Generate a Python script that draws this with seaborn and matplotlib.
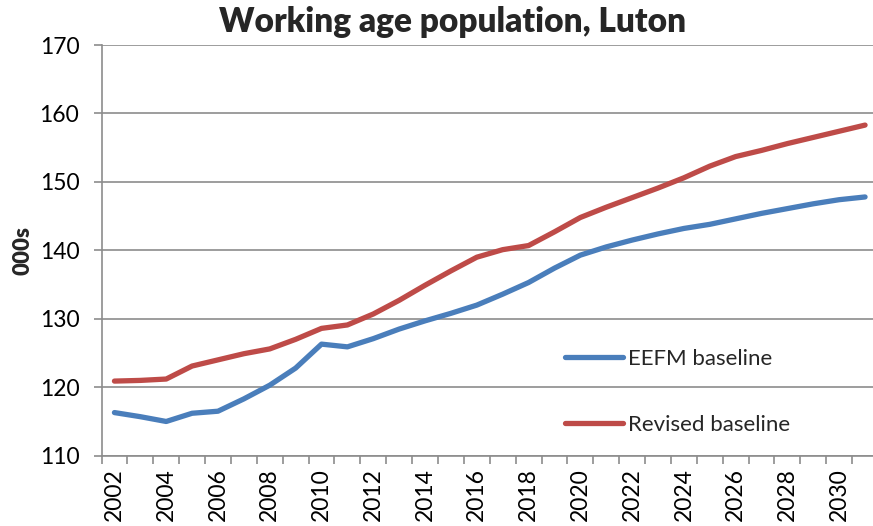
import numpy as np
import pandas as pd
import matplotlib
matplotlib.use("Agg")
import matplotlib.pyplot as plt
import seaborn as sns
from matplotlib.ticker import FixedLocator

years = list(range(2002, 2032))
eefm = [116.3, 115.7, 115.0, 116.2, 116.5, 118.3, 120.3, 122.8, 126.3, 125.9,
        127.1, 128.5, 129.7, 130.8, 132.0, 133.6, 135.3, 137.4, 139.3, 140.5,
        141.5, 142.4, 143.2, 143.8, 144.6, 145.4, 146.1, 146.8, 147.4, 147.8]
revised = [120.9, 121.0, 121.2, 123.1, 124.0, 124.9, 125.6, 127.0, 128.6, 129.1,
           130.7, 132.7, 134.9, 137.0, 139.0, 140.1, 140.7, 142.7, 144.8, 146.3,
           147.7, 149.1, 150.6, 152.3, 153.7, 154.6, 155.6, 156.5, 157.4, 158.3]
series_names = ["EEFM baseline", "Revised baseline"]
colors = ["#4A7EBB", "#BE4B48"]
y_ticks = [110, 120, 130, 140, 150, 160, 170]
x_labels = list(range(2002, 2031, 2))

df = pd.DataFrame({
    "year": years * 2,
    "value": eefm + revised,
    "series": [series_names[0]] * len(years) + [series_names[1]] * len(years),
})

sns.set_theme(style="white")
plt.rcParams["font.family"] = ["Lato", "DejaVu Sans"]

fig = plt.figure(figsize=(8.73, 5.26), dpi=100)
ax = fig.add_axes([101.5 / 873, 1 - 455.7 / 526, (878 - 101.5) / 873, (455.7 - 45) / 526])

sns.lineplot(data=df, x="year", y="value", hue="series", palette=colors,
             linewidth=3.8, ax=ax, legend=True)
for ln in ax.get_lines():
    ln.set_solid_capstyle("round")
    ln.set_solid_joinstyle("round")

ax.set_xlim(2001.5, 2031.5)
ax.set_ylim(110, 170)
ax.set_yticks(y_ticks)
ax.yaxis.grid(True, color="#8C8C8C", linewidth=1.2)
ax.xaxis.grid(False)
ax.set_axisbelow(True)

ax.set_xticks(x_labels)
ax.set_xticklabels([str(x) for x in x_labels], rotation=90)
ax.xaxis.set_minor_locator(FixedLocator([2001.5 + k for k in range(31)]))
ax.tick_params(axis="x", which="major", length=0, pad=9, labelsize=16.5, colors="black")
ax.tick_params(axis="x", which="minor", length=6, width=1.2, color="#8C8C8C", bottom=True)
ax.tick_params(axis="y", which="major", length=6, width=1.2, color="#8C8C8C",
               left=True, labelsize=16.5, labelcolor="black", pad=10)

for s in ["top", "right"]:
    ax.spines[s].set_visible(False)
for s in ["left", "bottom"]:
    ax.spines[s].set_color("#8C8C8C")
    ax.spines[s].set_linewidth(1.2)

ax.set_xlabel("")
ax.set_ylabel("000s", fontsize=16, fontweight="heavy", labelpad=4)
fig.text(453 / 873, 1 - 22 / 526, "Working age population, Luton", ha="center", va="center",
         fontsize=24, fontweight="heavy")

leg = ax.legend(loc="upper left", bbox_to_anchor=(545 / 873, 1 - 329 / 526),
                bbox_transform=fig.transFigure, frameon=False, fontsize=16,
                handlelength=2.6, handletextpad=0.25, labelspacing=2.05, title=None)
for h in leg.get_lines():
    h.set_linewidth(3.8)

fig.savefig("out.png", dpi=100)
